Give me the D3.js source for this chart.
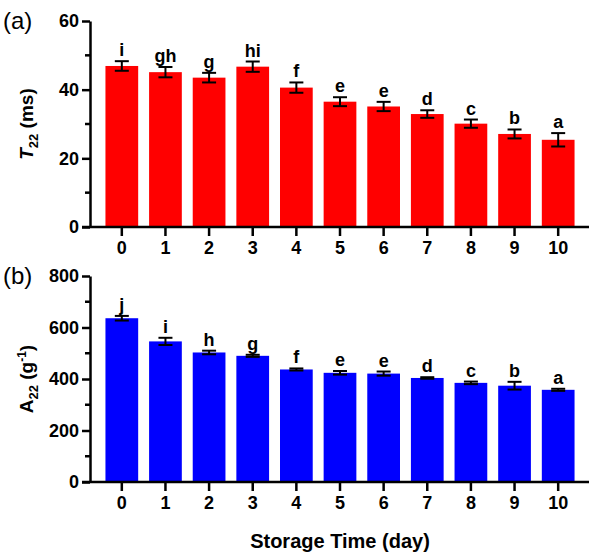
<!DOCTYPE html>
<html><head><meta charset="utf-8">
<script src="https://cdn.jsdelivr.net/npm/d3@7"></script>
<style>body{margin:0;background:#fff}svg{display:block}text{font-family:"Liberation Sans",Arial,sans-serif}</style>
</head><body><svg id="c" width="600" height="560"></svg>
<script>
const days = ["0","1","2","3","4","5","6","7","8","9","10"];
const t22 = [46.9, 45.1, 43.5, 46.7, 40.6, 36.5, 35.1, 32.9, 30.1, 27.1, 25.4];
const t22Err = [1.4, 1.5, 1.4, 1.5, 1.5, 1.3, 1.35, 1.1, 1.2, 1.3, 1.95];
const t22Letters = ["i","gh","g","hi","f","e","e","d","c","b","a"];
const a22 = [636, 546, 503, 490, 437, 424, 421, 404, 385, 374, 358];
const a22Err = [9, 14, 7, 4, 4, 7, 8, 3, 5, 15, 4];
const a22Letters = ["j","i","h","g","f","e","e","d","c","b","a"];
const t22Ticks = [0, 20, 40, 60];
const t22Minor = [10, 30, 50];
const a22Ticks = [0, 200, 400, 600, 800];
const a22Minor = [100, 300, 500, 700];

const svg = d3.select("#c");
const x = d3.scaleBand().domain(days).range([100, 580]).paddingInner(0.25).paddingOuter(0.125);
const FONT = "Liberation Sans, Arial, sans-serif";

function panel(cfg) {
  const g = svg.append("g");
  const y = d3.scaleLinear().domain([0, cfg.max]).range([cfg.y0, cfg.y1]);
  g.selectAll("rect.bar").data(cfg.vals).join("rect")
    .attr("x", (d, i) => x(days[i])).attr("width", x.bandwidth())
    .attr("y", d => y(d)).attr("height", d => y(0) - y(d))
    .attr("fill", cfg.color);
  const eb = g.selectAll("g.eb").data(cfg.vals).join("g");
  eb.append("line")
    .attr("x1", (d, i) => x(days[i]) + x.bandwidth() / 2)
    .attr("x2", (d, i) => x(days[i]) + x.bandwidth() / 2)
    .attr("y1", (d, i) => y(d + cfg.err[i])).attr("y2", (d, i) => y(d - cfg.err[i]))
    .attr("stroke", "#000").attr("stroke-width", 2);
  [1, -1].forEach(s => {
    eb.append("line")
      .attr("x1", (d, i) => x(days[i]) + x.bandwidth() / 2 - 7)
      .attr("x2", (d, i) => x(days[i]) + x.bandwidth() / 2 + 7)
      .attr("y1", (d, i) => y(d + s * cfg.err[i])).attr("y2", (d, i) => y(d + s * cfg.err[i]))
      .attr("stroke", "#000").attr("stroke-width", 2);
  });
  g.selectAll("text.let").data(cfg.vals).join("text")
    .attr("x", (d, i) => x(days[i]) + x.bandwidth() / 2)
    .attr("y", (d, i) => y(d + cfg.err[i]) - 5)
    .attr("text-anchor", "middle").attr("font-size", 18).attr("font-weight", "bold")
    .text((d, i) => cfg.letters[i]);
  const ya = g.append("g").attr("transform", `translate(90,0)`)
    .call(d3.axisLeft(y).tickValues(cfg.ticks).tickSize(8).tickPadding(3).tickSizeOuter(0));
  ya.select(".domain").attr("stroke-width", 2.5);
  ya.selectAll(".tick line").attr("stroke-width", 2.5);
  ya.selectAll(".tick text").attr("font-size", 18).attr("font-weight", "bold").attr("font-family", FONT);
  g.append("g").selectAll("line").data(cfg.minor).join("line")
    .attr("x1", 85).attr("x2", 90).attr("y1", d => y(d)).attr("y2", d => y(d))
    .attr("stroke", "#000").attr("stroke-width", 2.5);
  const xa = g.append("g").attr("transform", `translate(0,${cfg.y0})`)
    .call(d3.axisBottom(x).tickSize(9).tickPadding(5).tickSizeOuter(0));
  xa.select(".domain").attr("d", "M82,0H589").attr("stroke-width", 2.5);
  xa.selectAll(".tick line").attr("stroke-width", 2.5);
  xa.selectAll(".tick text").attr("font-size", 18).attr("font-weight", "bold").attr("font-family", FONT);
  g.append("text").attr("x", 3).attr("y", cfg.y1 + 8).attr("font-size", 24).text(cfg.tag);
  return y;
}

panel({vals: t22, err: t22Err, letters: t22Letters, max: 60, y0: 227, y1: 21, ticks: t22Ticks, minor: t22Minor, color: "#ff0000", tag: "(a)"});
panel({vals: a22, err: a22Err, letters: a22Letters, max: 800, y0: 482, y1: 276, ticks: a22Ticks, minor: a22Minor, color: "#0000ff", tag: "(b)"});

const t1 = svg.append("text").attr("transform", "translate(33,124) rotate(-90)")
  .attr("text-anchor", "middle").attr("font-size", 19).attr("font-weight", "bold");
t1.append("tspan").attr("font-style", "italic").text("T");
t1.append("tspan").attr("font-size", 13).attr("dy", 5).text("22");
t1.append("tspan").attr("dy", -5).text(" (ms)");

const t2 = svg.append("text").attr("transform", "translate(33,379) rotate(-90)")
  .attr("text-anchor", "middle").attr("font-size", 19).attr("font-weight", "bold");
t2.append("tspan").text("A");
t2.append("tspan").attr("font-size", 13).attr("dy", 5).text("22");
t2.append("tspan").attr("dy", -5).text(" (g");
t2.append("tspan").attr("font-size", 12).attr("dy", -7).text("-1");
t2.append("tspan").attr("dy", 7).text(")");

svg.append("text").attr("x", 340).attr("y", 548).attr("text-anchor", "middle")
  .attr("font-size", 20).attr("font-weight", "bold").text("Storage Time (day)");
</script></body></html>
